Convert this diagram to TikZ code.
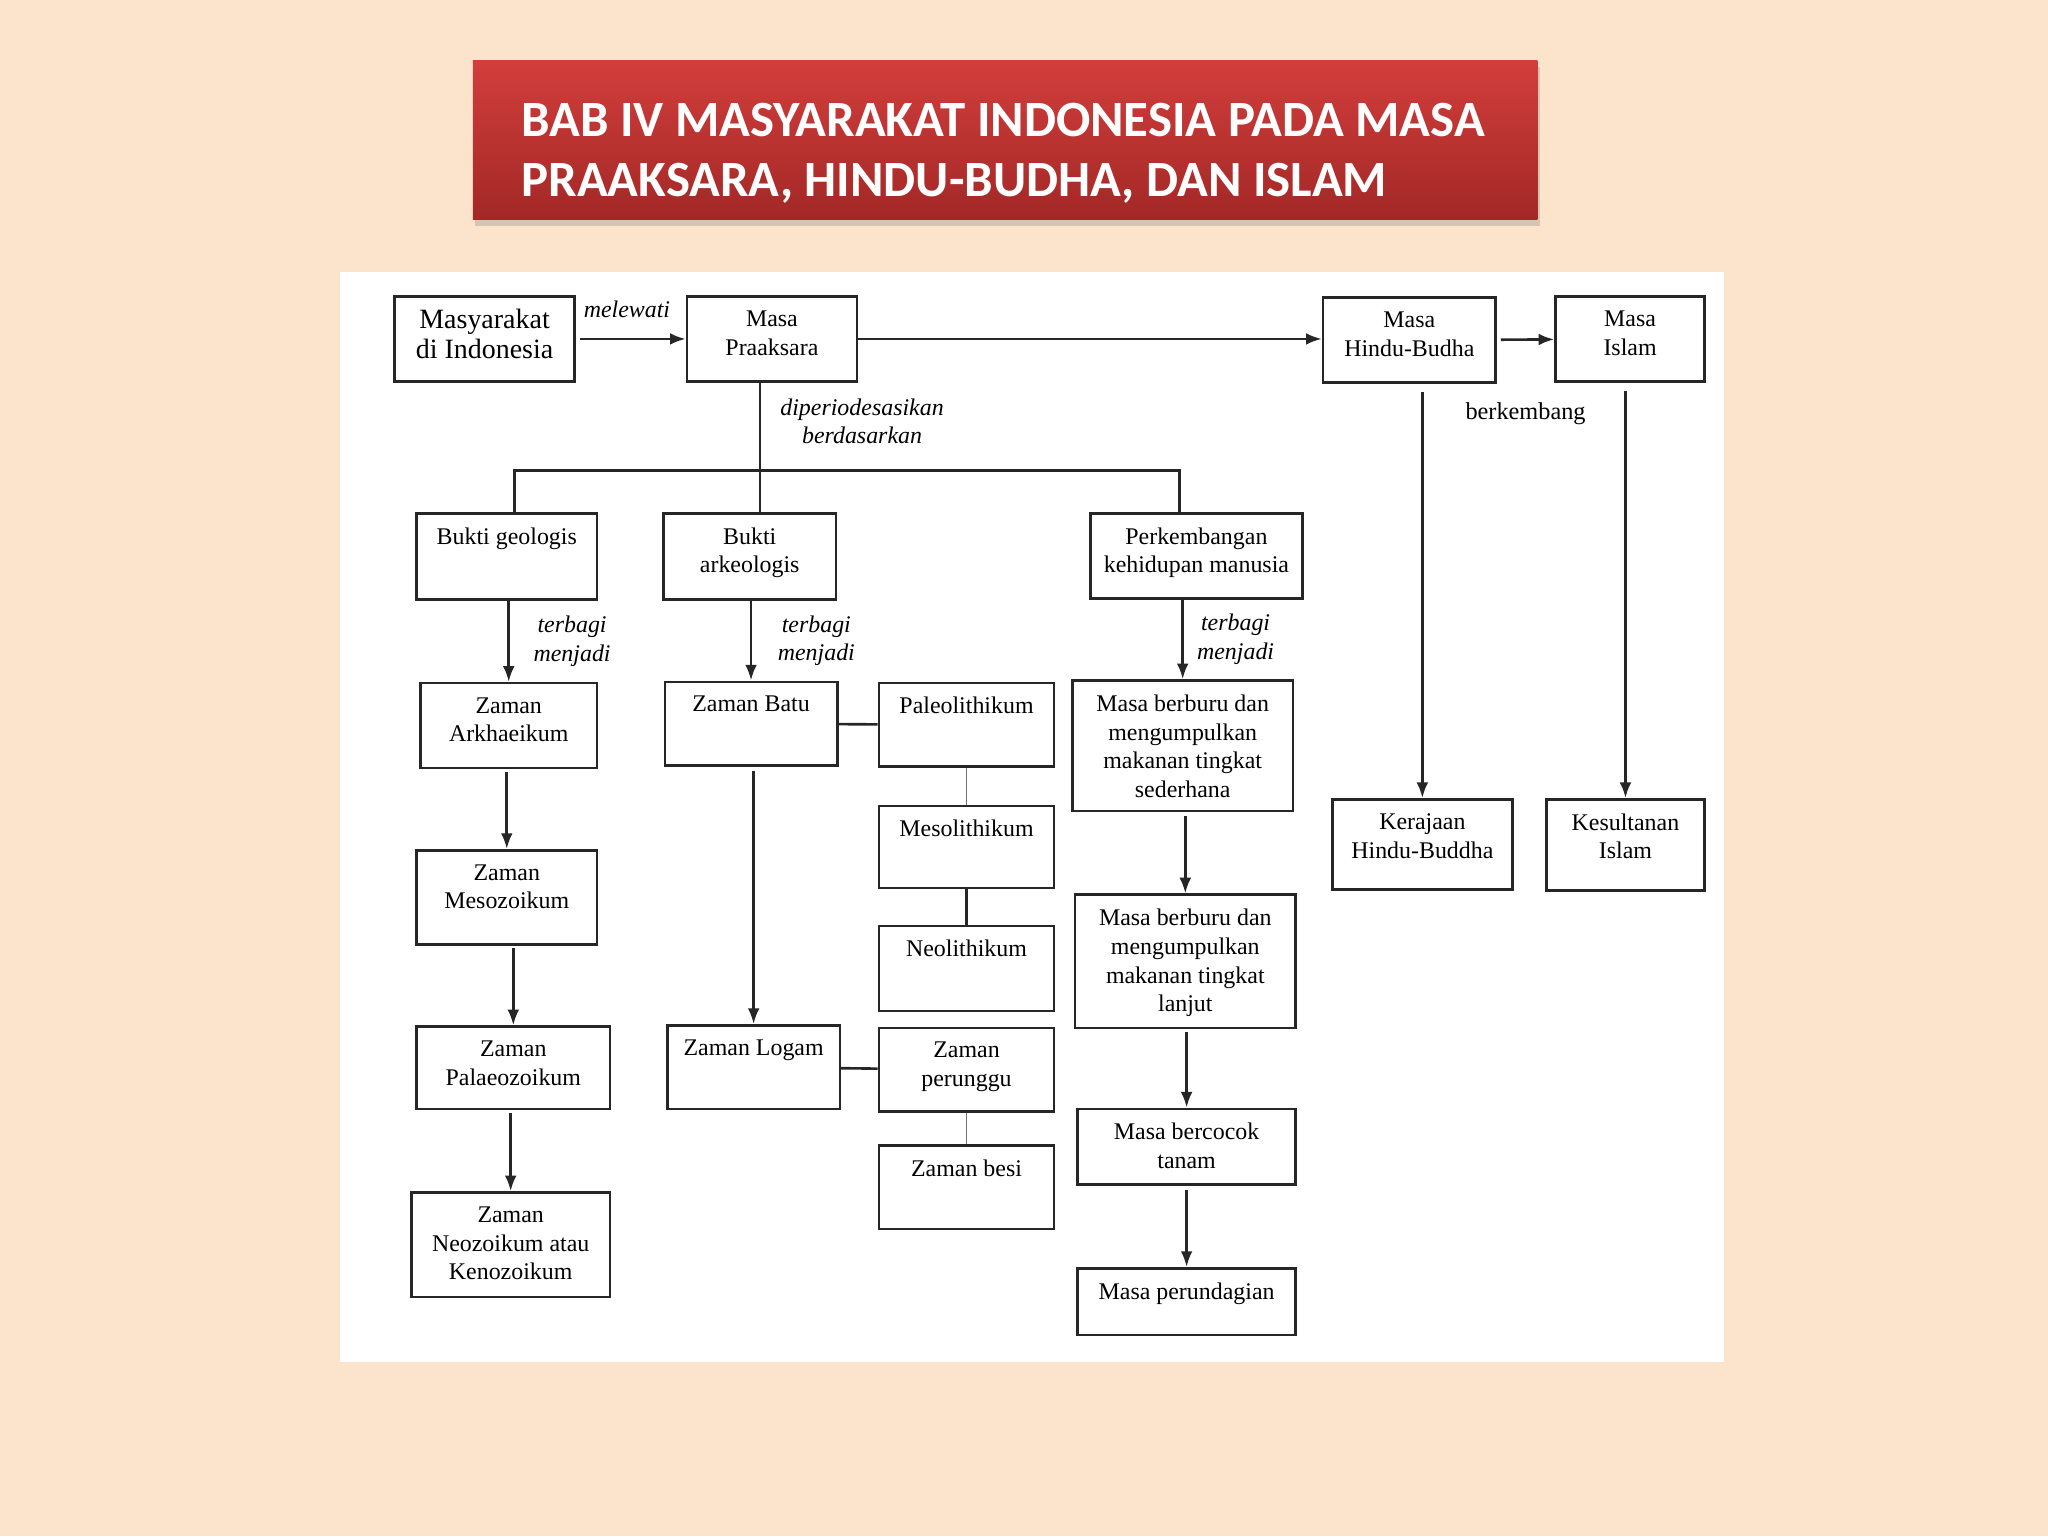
\documentclass[tikz,border=0pt]{standalone}
\usepackage{fontspec}
\setmainfont{Liberation Serif}
\newfontfamily\titlefont{Carlito}
\usepackage{tikz}
\usetikzlibrary{arrows.meta,calc,shadows}
\definecolor{slidebg}{RGB}{252,228,204}
\definecolor{titletop}{RGB}{210,62,60}
\definecolor{titlebot}{RGB}{162,40,38}
\tikzset{
  box/.style 2 args={
    rectangle,
    draw=black!85, line width=2pt,
    minimum width=#1pt, minimum height=#2pt,
    inner sep=0pt},
  boxtext/.style={
    anchor=north, yshift=-11.7pt, inner sep=0pt,
    align=center, font=\fontsize{18.3}{22}\selectfont},
  txt/.style={label={[boxtext]90:{#1}}},
  bigtxt/.style={label={[boxtext,yshift=1.2pt,font=\fontsize{21.4}{23}\selectfont]90:{#1}}},
  link/.style={line width=2pt, draw=black!85},
  thinlink/.style={line width=1.2pt, black!55},
  note/.style={font=\fontsize{18.3}{22}\selectfont\itshape, align=center, inner sep=0pt},
  titletext/.style={font=\titlefont\bfseries\fontsize{38.9}{46}\selectfont, text=white,
    align=left, inner sep=0pt},
}
\tikzset{>={Latex[length=12pt,width=9pt]}}

\begin{document}
\begin{tikzpicture}[x=1pt,y=-1pt]
\useasboundingbox (0,0) rectangle (1568,1176);
\fill[slidebg] (0,0) rectangle (1568,1176);

% title
\path[top color=titletop, bottom color=titlebot,
  drop shadow={shadow xshift=2pt, shadow yshift=-5pt, opacity=0.3}]
  (362,46) rectangle (1177,168);
\node[titletext, anchor=north west] (title) at (399,78.6)
  {BAB IV MASYARAKAT INDONESIA PADA MASA\\PRAAKSARA, HINDU-BUDHA, DAN ISLAM};

\fill[white] (260,208) rectangle (1320,1043);

\node[box={138}{65}, bigtxt={Masyarakat\\di Indonesia}] at (371,259.5) (masy) {};
\node[box={130}{65}, txt={Masa\\Praaksara}] at (591,259.5) (praak) {};
\node[box={132}{65}, txt={Masa\\Hindu-Budha}] at (1079,260.5) (hindu) {};
\node[box={114}{65}, txt={Masa\\Islam}] at (1248,259.5) (islam) {};
\node[box={138}{69}, txt={Kerajaan\\Hindu-Buddha}] at (1089,646.5) (kerajaan) {};
\node[box={121}{70}, txt={Kesultanan\\Islam}] at (1244.5,647) (kesultanan) {};

\node[box={138}{66}, txt={Bukti geologis}] at (388,426) (geo) {};
\node[box={132}{66}, txt={Bukti\\arkeologis}] at (574,426) (arkeo) {};
\node[box={162}{65}, txt={Perkembangan\\kehidupan manusia}] at (916,425.5) (perkem) {};

\node[box={135}{65}, txt={Zaman\\Arkhaeikum}] at (389.5,555.5) (arkh) {};
\node[box={138}{72}, txt={Zaman\\Mesozoikum}] at (388,687) (meso) {};
\node[box={148}{63}, txt={Zaman\\Palaeozoikum}] at (393,817.5) (palaeo) {};
\node[box={152}{80}, txt={Zaman\\Neozoikum atau\\Kenozoikum}] at (391,953) (neo) {};

\node[box={132}{64}, txt={Zaman Batu}] at (575,554) (batu) {};
\node[box={134}{64}, txt={Paleolithikum}] at (740,555) (paleo) {};
\node[box={134}{63}, txt={Mesolithikum}] at (740,648.5) (mesol) {};
\node[box={134}{65}, txt={Neolithikum}] at (740,741.5) (neol) {};
\node[box={132}{64}, txt={Zaman Logam}] at (577,817) (logam) {};
\node[box={134}{64}, txt={Zaman\\perunggu}] at (740,819) (perunggu) {};
\node[box={134}{64}, txt={Zaman besi}] at (740,909) (besi) {};

\node[box={169}{100}, txt={Masa berburu dan\\mengumpulkan\\makanan tingkat\\sederhana}] at (905.5,571) (buru1) {};
\node[box={169}{102}, txt={Masa berburu dan\\mengumpulkan\\makanan tingkat\\lanjut}] at (907.5,736) (buru2) {};
\node[box={167}{58}, txt={Masa bercocok\\tanam}] at (908.5,878) (cocok) {};
\node[box={167}{51}, txt={Masa perundagian}] at (908.5,996.5) (undagi) {};

\node[note] at (480,237) (lblmelewati) {melewati};
\node[note] at (660,322.5) (lblperiode) {diperiodesasikan\\berdasarkan};
\node[note, font=\fontsize{18.6}{22}\selectfont] at (1168,317) (lblberkembang) {berkembang};
\node[note] at (438,491) (lblgeo) {terbagi\\menjadi};
\node[note] at (625,490.5) (lblarkeo) {terbagi\\menjadi};
\node[note] at (946,489.5) (lblperkem) {terbagi\\menjadi};

\coordinate (split) at (582,360);
\coordinate (splitL) at (394,360);
\coordinate (splitR) at (903,360);

\draw[->,link,shorten <=3pt] (masy) -- (praak);
\draw[->,link] (praak.east) -- (praak.east -| hindu.west);
\draw[->,link,shorten <=3pt] (hindu) -- (islam);
\draw[->,link,shorten <=6pt] (hindu.south -| kerajaan) -- (kerajaan);
\draw[->,link,shorten <=6pt] (islam.south -| kesultanan) -- (kesultanan);

\draw[link] (split |- praak.south) -- (split |- arkeo.north);
\draw[link] (splitL |- geo.north) -- (splitL) -- (splitR) -- (splitR |- perkem.north);

\draw[->,link] (geo.south -| arkh) -- (arkh);
\draw[->,link,shorten <=2pt] (arkh.south -| meso) -- (meso);
\draw[->,link,shorten <=2pt] (meso.south -| palaeo) -- (palaeo);
\draw[->,link,shorten <=2pt] (palaeo.south -| neo) -- (neo);

\draw[->,link] (arkeo.south -| batu) -- (batu);
\draw[->,link,shorten <=3pt] (batu.south -| logam) -- (logam);
\draw[link] (batu) -- (paleo);
\draw[thinlink] (paleo) -- (mesol);
\draw[link] (mesol) -- (neol);
\draw[link] (logam) -- (perunggu);
\draw[thinlink] (perunggu) -- (besi);

\draw[->,link] (perkem.south -| buru1) -- (buru1);
\draw[->,link,shorten <=3pt] (buru1.south -| buru2) -- (buru2);
\draw[->,link,shorten <=2pt] (buru2.south -| cocok) -- (cocok);
\draw[->,link,shorten <=3pt] (cocok.south -| undagi) -- (undagi);
\end{tikzpicture}
\end{document}
